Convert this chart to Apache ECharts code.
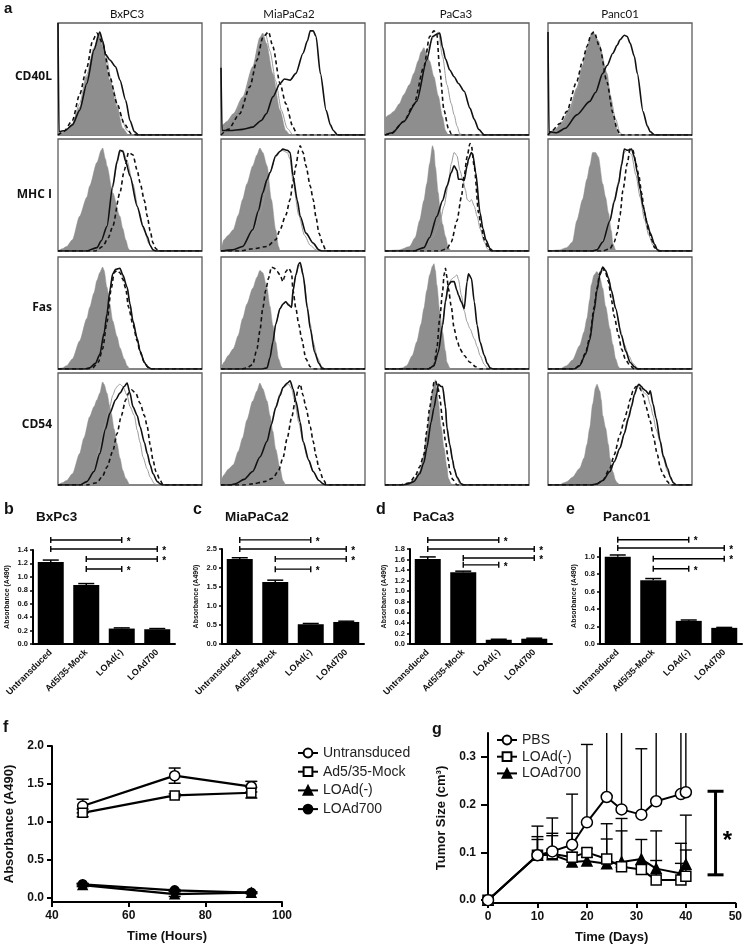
<!DOCTYPE html>
<html><head><meta charset="utf-8">
<script src="https://cdn.jsdelivr.net/npm/echarts@6/dist/echarts.min.js"></script>
<style>html,body{margin:0;padding:0;background:#fff}#c{width:745px;height:947px}</style>
</head><body><div id="c"></div>
<script>
// ---------- Panel a: flow cytometry histograms (x = fluorescence %, y = % of max) ----------
const histColumns = ['BxPC3', 'MiaPaCa2', 'PaCa3', 'Panc01'];
const histMarkers = ['CD40L', 'MHC I', 'Fas', 'CD54'];

const CD40L_fill = [
 [[0,0],[2,2],[6,4],[10,9],[15,25],[20,52],[25,76],[28,91],[31,79],[36,49],[41,25],[45,6],[49,0],[100,0]],
 [[0,0],[1,9],[4,12],[8.5,19],[15,34],[22,61],[27,87],[29,91],[31.5,82],[36,55],[41,22],[45,4],[48,0],[100,0]],
 [[0,15],[3,18],[6,21],[10,28],[13,36],[17,45],[20,55],[23,66],[25,74],[27,78],[29,72],[31,66],[34,52],[37,35],[40,16],[42,4],[44,0],[100,0]],
 [[0,0],[1,3],[5,5],[10,12],[15,24],[20,42],[24,62],[27,76],[30,90],[31,92],[34,86],[36,79],[41,55],[44,30],[46,14],[49,0],[100,0]]
];
const CD40L_gray = [
 [[0,0],[4,2],[10,10],[15,28],[20,54],[25,78],[29,90],[33,72],[38,42],[43,18],[48,4],[52,0],[100,0]],
 [[0,0],[3,8],[9,17],[15,32],[22,58],[27,84],[31,90],[34,75],[38,48],[42,22],[46,6],[50,0],[100,0]],
 [[0,0],[8,4],[13,12],[20,27],[25,50],[30,78],[34,88],[37,92],[40,70],[43,45],[46,28],[48,18],[50,8],[52,1],[55,0],[100,0]],
 [[0,0],[5,4],[10,10],[15,20],[20,40],[24,62],[28,82],[31,92],[35,84],[39,62],[43,36],[47,14],[50,2],[52,0],[100,0]]
];
const CD40L_dash = [
 [[0,0],[4,3],[10,13],[15,36],[20,60],[24,84],[27,91],[31,82],[36,52],[41,28],[46,10],[51,1],[55,0],[100,0]],
 [[0,0],[5,5],[13,19],[20,43],[25,67],[29,87],[33,92],[36,79],[41,46],[45,28],[50,7],[53,0],[100,0]],
 [[0,0],[4,1],[13,12],[20,27],[27,61],[31,88],[34,93],[36,90],[38,58],[41,22],[44,6],[46,1],[49,0],[100,0]],
 [[0,0],[3,4],[8,10],[13,21],[20,48],[24,66],[27,79],[30,90],[32,92],[36,78],[41,47],[45,20],[48,5],[50,0],[100,0]]
];
const CD40L_solid = [
 [[0,100],[0.7,3],[5,4],[10,9],[15,22],[20,46],[25,76],[29,92],[31,84],[33,72],[36,67],[40,61],[43,49],[47,31],[50,13],[53,3],[56,0],[100,0]],
 [[0,60],[0.7,4],[6,4],[15,5],[22,7],[28,13],[31.5,19],[36,34],[41,46],[44,50],[48,49],[52,55],[57,73],[60,84],[62,93],[64,93],[66,88],[69,55],[73,22],[76,9],[78,4],[81,0],[100,0]],
 [[0,0],[5,2],[13,12],[22,30],[29,67],[33,88],[36,90],[38,91],[40,78],[42,68],[45,58],[48,52],[51,46],[55,39],[59,24],[62,14],[65,5],[69,0],[100,0]],
 [[0,92],[0.7,3],[6,2],[12,6],[20,18],[29,30],[33,38],[38,55],[41,62],[45,73],[48,80],[50,85],[53,89],[55,88],[57,82],[60,70],[62,55],[66,21],[69,8],[71,3],[74,0],[100,0]]
];

const MHCI_fill = [
 [[0,0],[3,2],[6,4],[10,10],[15,31],[20,48],[22,58],[27,79],[30,90],[31,92],[33,82],[34,76],[38,52],[43,31],[45,20],[47,10],[49,2],[50,0],[100,0]],
 [[0,0],[2,10],[5,14],[8.5,19],[12,32],[15,46],[18,60],[22,76],[25,86],[27,92],[29,88],[32,76],[35,46],[38,19],[40,4],[41,0],[100,0]],
 [[0,0],[10,1],[17,4],[21,12],[24,27],[27,45],[29,60],[31,78],[33,94],[34,90],[35,75],[37,52],[38,40],[40,24],[42,13],[44,3],[46,0],[100,0]],
 [[0,0],[8,1],[13,3],[17,8],[20,27],[24,46],[27,64],[29,76],[31,88],[33,88],[35,84],[38,60],[40,48],[42,34],[44,18],[45,7],[47,1],[48,0],[100,0]]
];
const MHCI_gray = [
 [[0,0],[20,0],[26,2],[30,9],[34,22],[38,56],[41,78],[43,88],[45,90],[48,80],[52,60],[56,36],[60,18],[63,7],[66,1],[68,0],[100,0]],
 [[0,0],[8,1],[15,4],[22,17],[27,34],[31,52],[34,70],[38,84],[42,90],[46,88],[48,82],[50,62],[54,32],[58,14],[62,5],[66,1],[68,0],[100,0]],
 [[0,0],[20,0],[27,3],[33,12],[38,25],[41,40],[44,60],[46,78],[48,88],[50,85],[52,72],[54,64],[56,54],[57,46],[59,44],[60,46],[62,40],[64,31],[66,20],[69,8],[71,2],[73,0],[100,0]],
 [[0,0],[30,0],[35,3],[40,14],[43,27],[46,46],[49,62],[51,78],[53,88],[55,90],[58,86],[61,68],[64,48],[67,28],[70,14],[73,5],[76,1],[78,0],[100,0]]
];
const MHCI_dash = [
 [[0,0],[26,0],[31,4],[35,12],[38,22],[43,52],[46,72],[49,88],[52,86],[55,72],[57,61],[60,45],[62,31],[64,18],[66,7],[68,2],[70,0],[100,0]],
 [[0,0],[13,0],[22,2],[32,4],[38,10],[41,19],[45,32],[48,46],[50,62],[52,76],[54,90],[55,94],[57,88],[59,76],[62,58],[64,46],[66,30],[68,16],[71,5],[73,0],[100,0]],
 [[0,0],[38,0],[43,2],[46,8],[50,27],[53,48],[55,67],[57,84],[59,96],[60,94],[62,75],[65,34],[67,20],[69,10],[72,2],[74,0],[100,0]],
 [[0,0],[38,0],[43,2],[46,8],[48,16],[50,32],[52,54],[55,78],[57,91],[59,90],[61,78],[63,68],[65,52],[67,34],[70,18],[72,10],[74,3],[77,0],[100,0]]
];
const MHCI_solid = [
 [[0,0],[20,0],[27,3],[30,9],[34,22],[38,58],[41,80],[43,90],[45,89],[47,80],[50,67],[55,40],[59,22],[62,13],[64,5],[66,1],[68,0],[100,0]],
 [[0,0],[8,1],[15,4],[22,19],[26,36],[29,52],[32,64],[34,70],[38,85],[41,89],[43,91],[46,90],[48,88],[50,67],[53,45],[55,31],[59,16],[64,7],[68,1],[70,0],[100,0]],
 [[0,0],[20,0],[27,3],[31,12],[36,31],[40,45],[43,58],[46,70],[48,76],[50,72],[51,64],[53,64],[55,63],[57,76],[58,82],[60,88],[61,86],[63,70],[66,34],[68,20],[70,10],[73,2],[75,0],[100,0]],
 [[0,0],[30,0],[34,1],[38,8],[43,27],[46,44],[49,60],[51,76],[53,91],[55,90],[58,91],[60,84],[62,70],[64,55],[66,40],[69,24],[71,16],[74,6],[76,1],[78,0],[100,0]]
];

const Fas_fill = [
 [[0,0],[3,1],[6,3],[10,9],[15,25],[20,45],[22,55],[25,68],[27,79],[29,86],[31,91],[32,88],[34,73],[36,58],[38,43],[41,29],[43,19],[46,9],[48,3],[50,0],[100,0]],
 [[0,0],[1,4],[2,6],[5,12],[8.5,18],[12,30],[15,45],[18,58],[22,72],[25,82],[27,88],[29,86],[32,72],[34,56],[36,39],[38,24],[40,9],[42,2],[43,0],[100,0]],
 [[0,0],[8,0],[12,1],[15,3],[19,12],[22,24],[25,40],[27,54],[29,70],[31,84],[33,92],[34,94],[35,88],[36,75],[38,52],[40,33],[42,16],[43,6],[45,1],[46,0],[100,0]],
 [[0,0],[8,0],[13,3],[17,8],[22,21],[25,33],[27,45],[29,62],[30,75],[32,84],[34,87],[36,82],[38,72],[40,56],[43,36],[45,22],[47,9],[49,2],[50,0],[100,0]]
];
const Fas_gray = [
 [[0,0],[18,0],[22,1],[26,4],[29,13],[32,32],[34,49],[36,68],[38,85],[40,88],[43,90],[45,82],[48,73],[50,58],[52,43],[55,28],[57,16],[60,6],[62,2],[64,0],[100,0]],
 [[0,0],[28,0],[32,1],[34,10],[36,24],[38,40],[41,54],[43,58],[45,60],[47,58],[49,55],[50,68],[52,84],[54,93],[56,90],[58,76],[60,56],[62,40],[64,24],[67,10],[70,2],[72,0],[100,0]],
 [[0,0],[30,0],[34,3],[37,15],[40,40],[42,62],[44,75],[46,80],[48,82],[50,84],[51,80],[53,66],[55,52],[57,42],[59,36],[62,27],[64,20],[66,12],[69,4],[71,1],[73,0],[100,0]],
 [[0,0],[18,0],[22,2],[26,12],[29,26],[32,52],[34,68],[36,84],[38,88],[40,88],[42,82],[44,70],[47,54],[50,36],[53,22],[56,12],[59,5],[62,1],[64,0],[100,0]]
];
const Fas_dash = [
 [[0,0],[20,0],[24,1],[28,6],[31,18],[34,42],[37,72],[39,86],[41,88],[43,86],[45,80],[47,72],[49,55],[52,40],[55,25],[57,15],[60,6],[63,1],[65,0],[100,0]],
 [[0,0],[14,0],[18,1],[22,4],[25,18],[27,34],[29,54],[31,70],[33,81],[35,91],[37,90],[39,87],[41,84],[43,78],[44,82],[45,87],[47,90],[49,86],[50,70],[52,54],[54,40],[56,27],[59,9],[62,2],[64,0],[100,0]],
 [[0,0],[30,0],[34,3],[36,18],[38,45],[40,69],[41,84],[42,90],[43,82],[44,72],[46,56],[48,36],[50,26],[52,18],[55,12],[59,6],[63,2],[66,0],[100,0]],
 [[0,0],[18,0],[22,3],[26,14],[29,28],[32,55],[34,72],[36,86],[38,90],[40,86],[42,78],[44,62],[46,47],[49,30],[51,18],[54,8],[57,3],[60,0],[100,0]]
];
const Fas_solid = [
 [[0,0],[18,0],[22,1],[26,5],[29,13],[32,32],[34,49],[36,70],[38,85],[40,89],[43,90],[45,84],[48,73],[50,58],[52,43],[55,27],[57,16],[60,6],[62,2],[65,0],[100,0]],
 [[0,0],[28,0],[32,1],[34,10],[36,24],[38,40],[41,54],[43,58],[45,60],[47,57],[49,55],[50,70],[52,84],[54,94],[55,95],[57,84],[60,54],[62,36],[65,15],[68,5],[70,1],[72,0],[100,0]],
 [[0,0],[30,0],[34,3],[37,15],[40,39],[42,60],[44,75],[46,78],[48,78],[50,70],[51,66],[53,60],[55,54],[57,78],[58,85],[60,81],[62,60],[64,39],[66,24],[69,12],[71,5],[73,1],[75,0],[100,0]],
 [[0,0],[18,0],[22,3],[26,13],[29,26],[32,52],[34,70],[36,84],[38,91],[40,88],[42,81],[44,70],[47,54],[51,30],[54,16],[57,6],[60,2],[62,0],[100,0]]
];

const CD54_fill = [
 [[0,0],[3,2],[6,4],[10,10],[15,28],[18,42],[22,61],[25,70],[27,76],[29,82],[31,92],[32,90],[34,82],[36,70],[37,64],[39,50],[41,37],[43,24],[45,13],[47,6],[50,0],[100,0]],
 [[0,0],[1,7],[2,9],[5,14],[8.5,18],[12,30],[15,42],[18,58],[22,75],[25,84],[27,91],[29,86],[32,75],[34,62],[36,48],[38,32],[41,15],[43,4],[45,0],[100,0]],
 [[0,0],[10,0],[14,1],[17,2],[21,6],[24,12],[27,27],[29,45],[31,66],[33,84],[34,90],[35,94],[36,86],[37,75],[39,52],[41,33],[43,16],[44,6],[46,1],[48,0],[100,0]],
 [[0,0],[8,0],[11,2],[13,3],[17,7],[22,15],[25,24],[27,36],[29,51],[31,72],[33,87],[34,90],[36,84],[37,76],[38,62],[40,51],[42,36],[43,24],[45,12],[47,4],[48,2],[50,0],[100,0]]
];
const CD54_gray = [
 [[0,0],[15,0],[20,2],[25,14],[29,34],[33,55],[36,70],[38,80],[40,86],[41,88],[43,90],[45,88],[48,80],[50,70],[53,62],[55,49],[57,38],[59,25],[62,14],[64,7],[67,1],[69,0],[100,0]],
 [[0,0],[6,0],[10,1],[16,5],[22,12],[27,26],[32,40],[35,56],[38,70],[41,82],[44,88],[47,90],[49,86],[51,76],[54,56],[57,38],[60,24],[64,12],[68,4],[71,1],[73,0],[100,0]],
 [[0,0],[12,0],[16,1],[20,3],[24,10],[27,20],[29,34],[32,58],[34,70],[36,84],[37,90],[39,88],[40,86],[42,68],[43,52],[45,36],[47,22],[48,15],[50,6],[52,1],[54,0],[100,0]],
 [[0,0],[30,0],[34,1],[38,4],[43,12],[46,20],[50,33],[53,46],[55,58],[57,66],[58,72],[60,80],[62,86],[63,90],[65,86],[67,82],[69,80],[71,72],[73,62],[75,50],[78,38],[80,24],[83,12],[86,4],[88,1],[90,0],[100,0]]
];
const CD54_dash = [
 [[0,0],[20,0],[27,2],[31,8],[34,16],[38,30],[41,46],[44,62],[47,76],[49,82],[51,85],[54,82],[57,73],[60,62],[62,52],[64,36],[66,22],[68,12],[71,4],[73,0],[100,0]],
 [[0,0],[15,0],[22,1],[30,3],[36,6],[40,13],[43,24],[46,42],[49,60],[52,78],[54,88],[55,90],[57,80],[59,69],[62,52],[64,39],[66,26],[68,15],[71,5],[73,1],[75,0],[100,0]],
 [[0,0],[10,0],[14,1],[17,2],[21,8],[24,16],[27,27],[29,48],[31,69],[33,84],[34,92],[35,93],[37,86],[38,78],[40,58],[42,39],[44,22],[45,12],[47,5],[50,0],[100,0]],
 [[0,0],[30,0],[34,1],[38,4],[43,15],[46,27],[50,45],[53,58],[55,66],[57,76],[59,84],[61,88],[63,88],[65,84],[66,80],[68,70],[71,57],[73,44],[76,27],[78,15],[80,9],[83,3],[85,0],[100,0]]
];
const CD54_solid = [
 [[0,0],[15,0],[20,3],[25,12],[29,28],[33,50],[36,64],[40,76],[43,82],[46,88],[48,91],[50,82],[52,70],[55,62],[57,52],[60,38],[62,28],[64,18],[66,10],[69,3],[71,1],[73,0],[100,0]],
 [[0,0],[6,0],[10,1],[16,5],[22,12],[27,25],[32,39],[35,54],[38,69],[41,80],[43,87],[46,91],[48,93],[50,86],[52,75],[55,56],[57,39],[61,22],[64,12],[68,4],[71,1],[73,0],[100,0]],
 [[0,0],[12,0],[16,1],[20,3],[24,10],[27,20],[29,33],[32,56],[34,69],[36,82],[37,90],[39,88],[40,88],[42,70],[43,51],[45,36],[47,22],[48,15],[50,7],[53,1],[55,0],[100,0]],
 [[0,0],[30,0],[34,1],[38,4],[43,12],[46,21],[50,33],[53,46],[56,60],[58,70],[60,81],[62,88],[63,90],[65,88],[66,86],[68,84],[70,81],[71,84],[73,72],[75,60],[78,39],[80,26],[83,15],[85,7],[87,2],[89,0],[100,0]]
];

// ---------- Panels b-e: bar charts ----------
const barCategories = ['Untransduced', 'Ad5/35-Mock', 'LOAd(-)', 'LOAd700'];
const bxpc3Values = [1.22, 0.88, 0.23, 0.22];
const bxpc3Errors = [0.03, 0.02, 0.01, 0.01];
const miapaca2Values = [2.24, 1.63, 0.52, 0.58];
const miapaca2Errors = [0.03, 0.05, 0.02, 0.02];
const paca3Values = [1.61, 1.36, 0.08, 0.10];
const paca3Errors = [0.04, 0.02, 0.01, 0.01];
const panc01Values = [1.00, 0.73, 0.265, 0.185];
const panc01Errors = [0.02, 0.02, 0.01, 0.005];
const sigPairs = [[0, 2], [0, 3], [1, 3], [1, 2]];
const bxpc3BracketY = [1.55, 1.415, 1.265, 1.118];
const miapaca2BracketY = [2.74, 2.5, 2.24, 1.97];
const paca3BracketY = [1.97, 1.8, 1.63, 1.50];
const panc01BracketY = [1.195, 1.10, 0.977, 0.862];
const bxpc3Ticks = [0, 0.2, 0.4, 0.6, 0.8, 1.0, 1.2, 1.4];
const miapaca2Ticks = [0, 0.5, 1.0, 1.5, 2.0, 2.5];
const paca3Ticks = [0, 0.2, 0.4, 0.6, 0.8, 1.0, 1.2, 1.4, 1.6, 1.8];
const panc01Ticks = [0, 0.2, 0.4, 0.6, 0.8, 1.0];

// ---------- Panel f ----------
const timeHours = [48, 72, 92];
const fUntransduced = [1.21, 1.61, 1.465];
const fUntransducedErr = [0.09, 0.10, 0.07];
const fAd535Mock = [1.12, 1.35, 1.385];
const fAd535MockErr = [0.05, 0.02, 0.07];
const fLOAdMinus = [0.17, 0.05, 0.07];
const fLOAdMinusErr = [0.02, 0.03, 0.01];
const fLOAd700 = [0.18, 0.10, 0.07];
const fLOAd700Err = [0.01, 0.01, 0.01];
const fYTicks = [0, 0.5, 1.0, 1.5, 2.0];

// ---------- Panel g ----------
const days = [0, 10, 13, 17, 20, 24, 27, 31, 34, 39, 40];
const gPBS = [0, 0.094, 0.102, 0.116, 0.163, 0.216, 0.19, 0.179, 0.207, 0.222, 0.226];
const gPBSErr = [0, 0.061, 0.070, 0.106, 0.163, 0.3, 0.3, 0.138, 0.3, 0.3, 0.3];
const gLOAdMinus = [0, 0.094, 0.097, 0.09, 0.10, 0.086, 0.07, 0.064, 0.042, 0.042, 0.05];
const gLOAdMinusErr = [0, 0.039, 0.043, 0.05, 0.008, 0.074, 0.075, 0.01, 0.041, 0.035, 0.128];
const gLOAd700 = [0, 0.094, 0.095, 0.08, 0.082, 0.076, 0.08, 0.086, 0.066, 0.056, 0.075];
const gLOAd700Err = [0, 0.033, 0.04, 0.02, 0.008, 0.052, 0.091, 0.041, 0.079, 0.063, 0.03];
const gYTicks = [0, 0.1, 0.2, 0.3];
const gSignificance = [46, 0.053, 0.228];

// =================== build ===================
const FONT = '"Liberation Sans", Arial, sans-serif';
const chart = echarts.init(document.getElementById('c'), null, {renderer: 'canvas', width: 745, height: 947});
const grids = [], xAxes = [], yAxes = [], series = [], graphics = [];

function addText(text, x, y, font, align, vAlign, color, rotation) {
  graphics.push({type: 'text', x: x, y: y, rotation: rotation || 0,
    style: {text: text, font: font, fill: color || '#111', textAlign: align || 'left', textVerticalAlign: vAlign || 'middle', align: align || 'left', verticalAlign: vAlign || 'middle'}});
}

// ---- histograms ----
const histSets = [
  {fill: CD40L_fill, gray: CD40L_gray, dash: CD40L_dash, solid: CD40L_solid},
  {fill: MHCI_fill, gray: MHCI_gray, dash: MHCI_dash, solid: MHCI_solid},
  {fill: Fas_fill, gray: Fas_gray, dash: Fas_dash, solid: Fas_solid},
  {fill: CD54_fill, gray: CD54_gray, dash: CD54_dash, solid: CD54_solid}
];
const histLeft = [58, 221, 385, 548], histTop = [23, 139, 257, 373];
histMarkers.forEach(function (m, r) {
  histColumns.forEach(function (cn, c) {
    const gi = grids.length;
    grids.push({left: histLeft[c], top: histTop[r], width: 144, height: 112, show: true, borderColor: '#5c5c5c', borderWidth: 1.3, backgroundColor: '#fff', containLabel: false});
    xAxes.push({gridIndex: gi, type: 'value', min: 0, max: 100, show: false});
    yAxes.push({gridIndex: gi, type: 'value', min: 0, max: 100, show: false});
    const set = histSets[r];
    const base = {type: 'line', xAxisIndex: gi, yAxisIndex: gi, symbol: 'none', smooth: 0.25, smoothMonotone: 'x', silent: true, animation: false};
    series.push(Object.assign({}, base, {data: set.fill[c], lineStyle: {width: 0.5, color: '#8e8e8e'}, areaStyle: {color: '#8e8e8e', opacity: 1}, z: 1}));
    series.push(Object.assign({}, base, {data: set.gray[c], lineStyle: {width: 1, color: '#9a9a9a'}, z: 2}));
    series.push(Object.assign({}, base, {data: set.dash[c], lineStyle: {width: 1.6, color: '#111', type: [4, 3]}, z: 3}));
    series.push(Object.assign({}, base, {data: set.solid[c], lineStyle: {width: 1.6, color: '#111'}, z: 4}));
  });
});
addText('a', 4, 9, 'bold 15px ' + FONT);
const colTitleX = [127, 289, 456, 620];
histColumns.forEach(function (n, c) { addText(n, colTitleX[c], 14, '11.5px Lato, ' + FONT, 'center'); });
const rowLabelY = [77, 195, 308, 425];
histMarkers.forEach(function (n, r) { addText(n, 52, rowLabelY[r], 'bold 12px "Open Sans", ' + FONT, 'right'); });

// ---- bar charts ----
function barErrRender(params, api) {
  const x = api.value(0), v = api.value(1), e = api.value(2);
  const base = api.coord([x, v]), top = api.coord([x, v + e]);
  const hw = 8;
  return {type: 'group', children: [
    {type: 'line', shape: {x1: top[0], y1: base[1], x2: top[0], y2: top[1]}, style: {stroke: '#000', lineWidth: 1.5}},
    {type: 'line', shape: {x1: top[0] - hw, y1: top[1], x2: top[0] + hw, y2: top[1]}, style: {stroke: '#000', lineWidth: 1.5}}
  ]};
}
function bracketRender(params, api) {
  const a = api.coord([api.value(0), api.value(2)]);
  const b = api.coord([api.value(1), api.value(2)]);
  const st = {stroke: '#000', lineWidth: 1.4};
  return {type: 'group', children: [
    {type: 'line', shape: {x1: a[0], y1: a[1], x2: b[0], y2: b[1]}, style: st},
    {type: 'line', shape: {x1: a[0], y1: a[1] - 3, x2: a[0], y2: a[1] + 3}, style: st},
    {type: 'line', shape: {x1: b[0], y1: b[1] - 3, x2: b[0], y2: b[1] + 3}, style: st},
    {type: 'text', x: b[0] + 5, y: b[1] + 2, style: {text: '*', font: 'bold 10px ' + FONT, fill: '#000', textAlign: 'left', textVerticalAlign: 'middle', align: 'left', verticalAlign: 'middle'}}
  ]};
}
const barPanels = [
  {letter: 'b', title: 'BxPc3', values: bxpc3Values, errors: bxpc3Errors, brackets: bxpc3BracketY, ticks: bxpc3Ticks, max: 1.4},
  {letter: 'c', title: 'MiaPaCa2', values: miapaca2Values, errors: miapaca2Errors, brackets: miapaca2BracketY, ticks: miapaca2Ticks, max: 2.5},
  {letter: 'd', title: 'PaCa3', values: paca3Values, errors: paca3Errors, brackets: paca3BracketY, ticks: paca3Ticks, max: 1.8},
  {letter: 'e', title: 'Panc01', values: panc01Values, errors: panc01Errors, brackets: panc01BracketY, ticks: panc01Ticks, max: 1.1}
];
const barLeft = [33, 222, 410, 600];
const barTop = [550, 549, 549, 548];
const letterX = [4, 193, 376, 566];
barPanels.forEach(function (p, i) {
  const gi = grids.length;
  grids.push({left: barLeft[i], top: barTop[i], width: 142, height: 644 - barTop[i]});
  xAxes.push({gridIndex: gi, type: 'category', data: barCategories,
    axisLine: {lineStyle: {color: '#000', width: 2}},
    axisTick: {alignWithLabel: true, length: 4, lineStyle: {color: '#000', width: 1.5}},
    axisLabel: {rotate: 45, margin: 7, interval: 0, color: '#111', fontSize: 9, fontWeight: 'bold', fontFamily: FONT}});
  yAxes.push({gridIndex: gi, type: 'value', min: 0, max: p.max,
    name: 'Absorbance (A490)', nameLocation: 'middle', nameRotate: 90, nameGap: 22,
    nameTextStyle: {fontSize: 7, fontWeight: 'bold', fontFamily: FONT, color: '#111'},
    axisLine: {show: true, lineStyle: {color: '#000', width: 2}},
    axisTick: {show: true, length: 3, customValues: p.ticks, lineStyle: {color: '#000', width: 1.5}},
    axisLabel: {customValues: p.ticks, formatter: function (v) { return v.toFixed(1); }, margin: 5, color: '#111', fontSize: 7.5, fontWeight: 'bold', fontFamily: FONT},
    splitLine: {show: false}});
  series.push({type: 'bar', xAxisIndex: gi, yAxisIndex: gi, data: p.values, barWidth: 26, itemStyle: {color: '#000'}, silent: true, z: 2});
  series.push({type: 'custom', xAxisIndex: gi, yAxisIndex: gi, renderItem: barErrRender, silent: true, z: 3,
    data: p.values.map(function (v, k) { return [k, v, p.errors[k]]; })});
  series.push({type: 'custom', xAxisIndex: gi, yAxisIndex: gi, renderItem: bracketRender, silent: true, clip: false, z: 3,
    data: sigPairs.map(function (pr, k) { return [pr[0], pr[1], p.brackets[k]]; })});
  addText(p.letter, letterX[i], 510, 'bold 16px ' + FONT);
  addText(p.title, barLeft[i] + 3, 517, 'bold 13.5px ' + FONT);
});

// ---- f / g common ----
function axisStyle(extra) {
  return Object.assign({
    axisLine: {show: true, onZero: false, lineStyle: {color: '#000', width: 2}},
    axisTick: {show: true, length: 5, lineStyle: {color: '#000', width: 2}},
    axisLabel: {color: '#111', fontSize: 12, fontWeight: 'bold', fontFamily: FONT, margin: 8},
    splitLine: {show: false},
    nameLocation: 'middle',
    nameTextStyle: {fontSize: 13, fontWeight: 'bold', fontFamily: FONT, color: '#111'}
  }, extra);
}
function symErrRender(params, api) {
  const x = api.value(0), v = api.value(1), e = api.value(2);
  const t = api.coord([x, v + e]), b = api.coord([x, v - e]);
  const hw = 6, st = {stroke: '#000', lineWidth: 1.5};
  return {type: 'group', children: [
    {type: 'line', shape: {x1: t[0], y1: t[1], x2: t[0], y2: b[1]}, style: st},
    {type: 'line', shape: {x1: t[0] - hw, y1: t[1], x2: t[0] + hw, y2: t[1]}, style: st},
    {type: 'line', shape: {x1: t[0] - hw, y1: b[1], x2: t[0] + hw, y2: b[1]}, style: st}
  ]};
}
function upErrRender(params, api) {
  const x = api.value(0), v = api.value(1), e = api.value(2);
  const t = api.coord([x, v + e]), b = api.coord([x, v]);
  const hw = 6, st = {stroke: '#000', lineWidth: 1.4};
  return {type: 'group', children: [
    {type: 'line', shape: {x1: t[0], y1: t[1], x2: t[0], y2: b[1]}, style: st},
    {type: 'line', shape: {x1: t[0] - hw, y1: t[1], x2: t[0] + hw, y2: t[1]}, style: st}
  ]};
}

// ---- f ----
const fi = grids.length;
grids.push({left: 52, top: 746, width: 230, height: 156});
xAxes.push(Object.assign({gridIndex: fi, type: 'value', min: 40, max: 100, interval: 20, name: 'Time (Hours)', nameGap: 28}, axisStyle({})));
yAxes.push(Object.assign({gridIndex: fi, type: 'value', min: -0.053, max: 2, name: 'Absorbance (A490)', nameGap: 36, nameRotate: 90}, axisStyle({})));
yAxes[yAxes.length - 1].axisLabel = Object.assign({}, yAxes[yAxes.length - 1].axisLabel, {customValues: fYTicks, formatter: function (v) { return v.toFixed(1); }});
yAxes[yAxes.length - 1].axisTick = Object.assign({}, yAxes[yAxes.length - 1].axisTick, {customValues: fYTicks});
const fSeries = [
  {name: 'f:Untransduced', v: fUntransduced, e: fUntransducedErr, symbol: 'circle', size: 10, fill: '#fff'},
  {name: 'f:Ad5/35-Mock', v: fAd535Mock, e: fAd535MockErr, symbol: 'rect', size: 9, fill: '#fff'},
  {name: 'f:LOAd(-)', v: fLOAdMinus, e: fLOAdMinusErr, symbol: 'triangle', size: 9, fill: '#000'},
  {name: 'f:LOAd700', v: fLOAd700, e: fLOAd700Err, symbol: 'circle', size: 9, fill: '#000'}
];
fSeries.forEach(function (s) {
  series.push({type: 'custom', xAxisIndex: fi, yAxisIndex: fi, renderItem: symErrRender, silent: true, z: 2,
    data: timeHours.map(function (t, k) { return [t, s.v[k], s.e[k]]; })});
});
fSeries.forEach(function (s) {
  series.push({type: 'line', name: s.name, xAxisIndex: fi, yAxisIndex: fi, z: 3,
    data: timeHours.map(function (t, k) { return [t, s.v[k]]; }),
    symbol: s.symbol, symbolSize: s.size, showAllSymbol: true,
    lineStyle: {color: '#000', width: 2.2}, itemStyle: {color: s.fill, borderColor: '#000', borderWidth: 1.5}});
});

// ---- g ----
const gi2 = grids.length;
grids.push({left: 488, top: 733, width: 250, height: 170});
xAxes.push(Object.assign({gridIndex: gi2, type: 'value', min: 0, max: 50, interval: 10, name: 'Time (Days)', nameGap: 28}, axisStyle({})));
yAxes.push(Object.assign({gridIndex: gi2, type: 'value', min: -0.006, max: 0.35, name: 'Tumor Size (cm³)', nameGap: 40, nameRotate: 90}, axisStyle({})));
yAxes[yAxes.length - 1].axisLabel = Object.assign({}, yAxes[yAxes.length - 1].axisLabel, {customValues: gYTicks, formatter: function (v) { return v.toFixed(1); }, margin: 12});
yAxes[yAxes.length - 1].axisTick = Object.assign({}, yAxes[yAxes.length - 1].axisTick, {customValues: gYTicks, length: 7});
const gSeries = [
  {name: 'g:PBS', v: gPBS, e: gPBSErr, symbol: 'circle', size: 11, fill: '#fff'},
  {name: 'g:LOAd(-)', v: gLOAdMinus, e: gLOAdMinusErr, symbol: 'rect', size: 10, fill: '#fff'},
  {name: 'g:LOAd700', v: gLOAd700, e: gLOAd700Err, symbol: 'triangle', size: 10, fill: '#000'}
];
gSeries.forEach(function (s) {
  series.push({type: 'custom', xAxisIndex: gi2, yAxisIndex: gi2, renderItem: upErrRender, silent: true, z: 2, clip: true,
    data: days.map(function (t, k) { return [t, s.v[k], s.e[k]]; })});
});
gSeries.slice().reverse().forEach(function (s) {
  series.push({type: 'line', name: s.name, xAxisIndex: gi2, yAxisIndex: gi2, z: 3,
    data: days.map(function (t, k) { return [t, s.v[k]]; }),
    symbol: s.symbol, symbolSize: s.size, showAllSymbol: true,
    lineStyle: {color: '#000', width: 2}, itemStyle: {color: s.fill, borderColor: '#000', borderWidth: 1.5}});
});
series.push({type: 'custom', xAxisIndex: gi2, yAxisIndex: gi2, silent: true, clip: false, z: 4,
  data: [gSignificance],
  renderItem: function (params, api) {
    const b = api.coord([api.value(0), api.value(1)]), t = api.coord([api.value(0), api.value(2)]);
    const st = {stroke: '#000', lineWidth: 3};
    return {type: 'group', children: [
      {type: 'line', shape: {x1: b[0], y1: b[1], x2: t[0], y2: t[1]}, style: st},
      {type: 'line', shape: {x1: b[0] - 8, y1: b[1], x2: b[0] + 8, y2: b[1]}, style: st},
      {type: 'line', shape: {x1: t[0] - 8, y1: t[1], x2: t[0] + 8, y2: t[1]}, style: st},
      {type: 'text', x: b[0] + 12, y: (b[1] + t[1]) / 2 + 8, style: {text: '*', font: 'bold 24px ' + FONT, fill: '#000', textAlign: 'center', textVerticalAlign: 'middle', align: 'center', verticalAlign: 'middle'}}
    ]};
  }});

addText('f', 3, 728, 'bold 16px ' + FONT);
addText('g', 432, 730, 'bold 16px ' + FONT);

const legendText = {fontSize: 14, fontFamily: FONT, color: '#222', lineHeight: 14};
chart.setOption({
  animation: false,
  backgroundColor: '#fff',
  grid: grids, xAxis: xAxes, yAxis: yAxes, series: series,
  legend: [
    {data: fSeries.map(function (s) { return s.name; }), formatter: function (n) { return n.slice(2); },
     orient: 'vertical', left: 292, top: 741, itemWidth: 20, itemHeight: 11, itemGap: 4.7, selectedMode: false, textStyle: legendText},
    {data: gSeries.map(function (s) { return s.name; }), formatter: function (n) { return n.slice(2); },
     orient: 'vertical', left: 491, top: 728, itemWidth: 20, itemHeight: 11, itemGap: 2.7, selectedMode: false, textStyle: legendText}
  ],
  graphic: graphics
});
</script></body></html>
